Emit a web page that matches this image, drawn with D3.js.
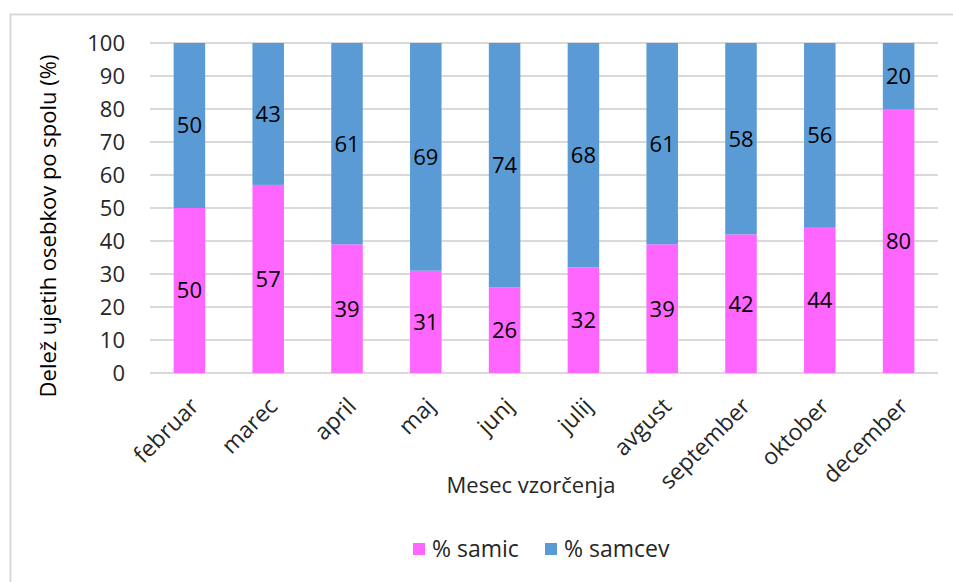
<!DOCTYPE html>
<html>
<head>
<meta charset="utf-8">
<script src="https://cdn.jsdelivr.net/npm/d3@7"></script>
<style>
  body { margin: 0; background: #fff; }
  svg { display: block; font-family: "Open Sans", "Noto Sans", sans-serif; }
</style>
</head>
<body>
<svg id="chart" width="953" height="582"></svg>
<script>
const months = ["februar", "marec", "april", "maj", "junj", "julij", "avgust", "september", "oktober", "december"];
const samic = [50, 57, 39, 31, 26, 32, 39, 42, 44, 80];
const samcev = [50, 43, 61, 69, 74, 68, 61, 58, 56, 20];
const yTicks = [0, 10, 20, 30, 40, 50, 60, 70, 80, 90, 100];
const seriesNames = ["% samic", "% samcev"];
const colors = ["#FF66FF", "#5B9BD5"];

const svg = d3.select("#chart");
const FS = 22;

// chart border (top & left visible)
svg.append("rect").attr("x", 10.5).attr("y", 14.5).attr("width", 960).attr("height", 600)
  .attr("fill", "none").attr("stroke", "#D9D9D9").attr("stroke-width", 2);

const x = d3.scaleBand().domain(months).range([150, 938]).paddingInner(0.6).paddingOuter(0.3);
const y = d3.scaleLinear().domain([0, 100]).range([373, 43]);

// gridlines
svg.append("g").selectAll("line").data(yTicks).join("line")
  .attr("x1", 150).attr("x2", 938)
  .attr("y1", d => y(d)).attr("y2", d => y(d))
  .attr("stroke", "#D9D9D9").attr("stroke-width", 2);

// y axis labels
const yAxis = d3.axisLeft(y).tickValues(yTicks).tickSize(0).tickPadding(0);
const gy = svg.append("g").attr("transform", "translate(125,0)").call(yAxis);
gy.select(".domain").remove();
gy.selectAll("text").attr("font-size", FS).attr("fill", "#262626").attr("font-family", "Open Sans, sans-serif");

// stacked data
const data = months.map((m, i) => ({ month: m, samic: samic[i], samcev: samcev[i] }));
const stacked = d3.stack().keys(["samic", "samcev"])(data);

stacked.forEach((layer, li) => {
  const g = svg.append("g");
  g.selectAll("rect").data(layer).join("rect")
    .attr("x", d => x(d.data.month))
    .attr("width", x.bandwidth())
    .attr("y", d => y(d[1]))
    .attr("height", d => y(d[0]) - y(d[1]))
    .attr("fill", colors[li]);
  g.selectAll("text").data(layer).join("text")
    .attr("x", d => x(d.data.month) + x.bandwidth() / 2)
    .attr("y", d => (y(d[0]) + y(d[1])) / 2)
    .attr("dy", "0.36em")
    .attr("text-anchor", "middle")
    .attr("font-size", FS)
    .attr("fill", "#000")
    .text(d => d[1] - d[0]);
});

// x axis labels
const xAxis = d3.axisBottom(x).tickSize(0).tickPadding(0);
const gx = svg.append("g").attr("transform", "translate(0,373)").call(xAxis);
gx.select(".domain").remove();
gx.selectAll("text")
  .attr("font-size", 23).attr("fill", "#262626").attr("font-family", "Open Sans, sans-serif")
  .attr("text-anchor", "end")
  .attr("transform", "translate(5,29) rotate(-45)")
  .attr("dy", "0.35em").attr("y", 0).attr("x", 0);

// axis titles
svg.append("text").attr("x", 531).attr("y", 493).attr("text-anchor", "middle")
  .attr("font-size", FS).attr("fill", "#262626").text("Mesec vzorčenja");
svg.append("text").attr("transform", "translate(56,226) rotate(-90)").attr("text-anchor", "middle")
  .attr("font-size", FS).attr("fill", "#000").text("Delež ujetih osebkov po spolu (%)");

// legend
const legendX = [413, 545];
const lg = svg.append("g");
seriesNames.forEach((n, i) => {
  lg.append("rect").attr("x", legendX[i]).attr("y", 543).attr("width", 12).attr("height", 12).attr("fill", colors[i]);
  lg.append("text").attr("x", legendX[i] + 19).attr("y", 557).attr("font-size", 23).attr("fill", "#262626").text(n);
});
</script>
</body>
</html>
